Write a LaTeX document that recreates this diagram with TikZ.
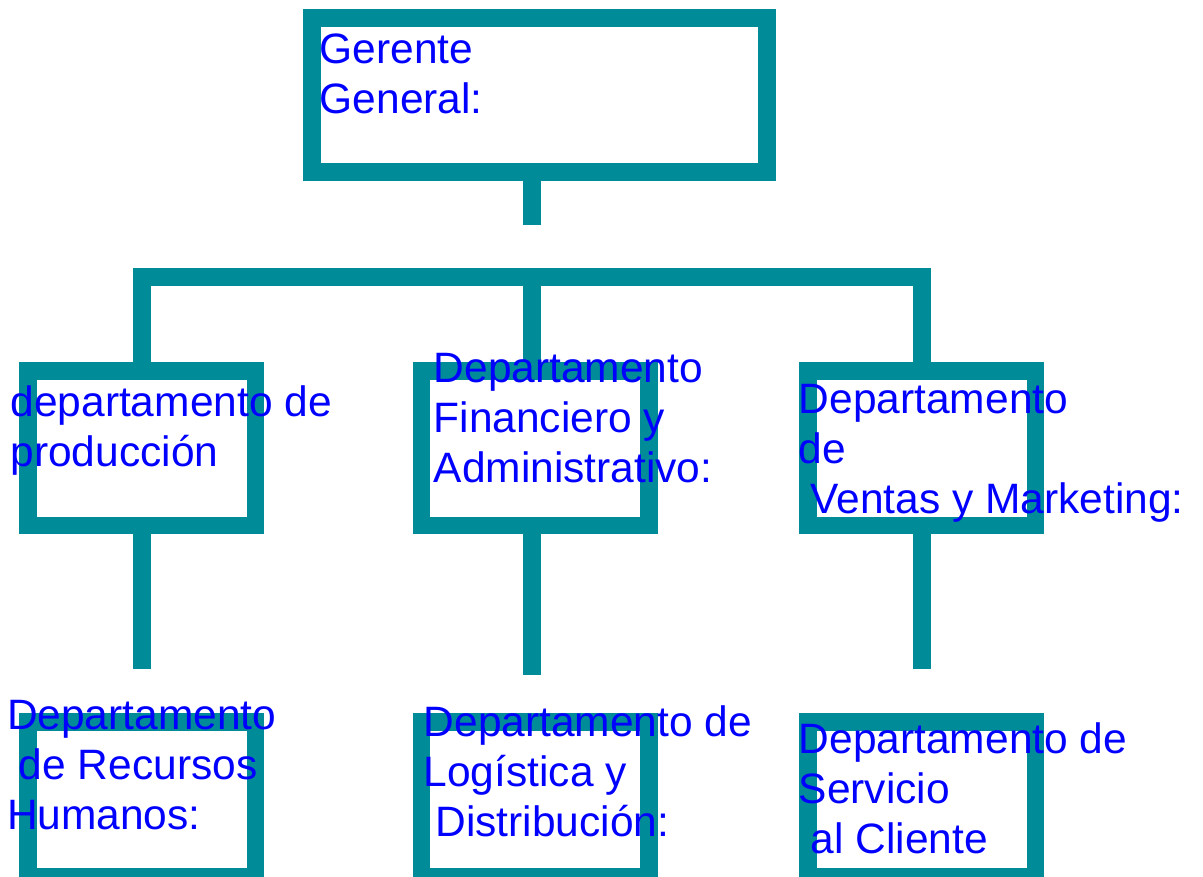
\documentclass[tikz,border=0pt]{standalone}
\usepackage{fontspec}
\setmainfont{Liberation Sans}
\usetikzlibrary{positioning}
\definecolor{orgteal}{RGB}{0,139,153}
\definecolor{orgblue}{RGB}{0,0,255}

\begin{document}
\begin{tikzpicture}[x = 1pt, y = -1pt,
    unit/.style = {
      rectangle, draw = orgteal, line width = 17.5pt, minimum width = 227.5pt,
      minimum height = 154.5pt, inner sep = 0pt
    },
    link/.style = {draw = orgteal, line width = 17.5pt},
    caption/.style = {
      anchor = base west, align = left, inner sep = 0pt, text = orgblue,
      font = \fontsize{42.5}{50}\selectfont
    }]
      \useasboundingbox (0,0) rectangle (1203,877);
      \clip (0,0) rectangle (1203,877);

      \node [unit, minimum width = 455pt, minimum height = 154pt] (gg) at (539.5, 95) {};
      \node [unit] (prod) at (141.85, 448.3) {};
      \node [unit] (fin) at (535.25, 448.3) {};
      \node [unit] (ventas) at (921.75, 448.3) {};
      \node [unit, below = 179pt of prod] (rrhh) {};
      \node [unit, below = 179pt of fin] (logis) {};
      \node [unit, below = 179pt of ventas] (serv) {};

      \coordinate (hub) at (532, 277);
      \coordinate (gg-end) at (532, 225);
      \coordinate (prod-end) at (141.85, 669.3);
      \coordinate (fin-end) at (532, 675);
      \coordinate (ventas-end) at (921.75, 669.3);

      \draw [link] (gg.south -| hub) -- (gg-end);
      \draw [link] (prod.north) |- (hub) -| (ventas.north);
      \draw [link] (fin.north -| hub) -- (hub);
      \draw [link] (prod.south) -- (prod-end);
      \draw [link] (fin.south -| hub) -- (fin-end);
      \draw [link] (ventas.south) -- (ventas-end);

      % anchors sit on the baseline of the last line
      \node [caption] (gg-text) at (319.5, 113.3) {Gerente\\General:};
      \node [caption] (prod-text) at (10.3, 466.7) {departamento de\\producción};
      \node [caption] (fin-text) at (433.5, 482.3)
        {Departamento\\Financiero y\\Administrativo:};
      \node [caption] (ventas-text) at (798.6, 513.3)
        {Departamento\\de\\\hspace*{.278em}Ventas y Marketing:};
      \node [caption] (rrhh-text) at (6.8, 829)
        {Departamento\\\hspace*{.278em}de Recursos\\Humanos:};
      \node [caption] (logis-text) at (423.5, 836.7)
        {Departamento de\\Logística y\\\hspace*{.278em}Distribución:};
      \node [caption] (serv-text) at (798.6, 853.3)
        {Departamento de\\Servicio\\\hspace*{.278em}al Cliente};
    \end{tikzpicture}
\end{document}
